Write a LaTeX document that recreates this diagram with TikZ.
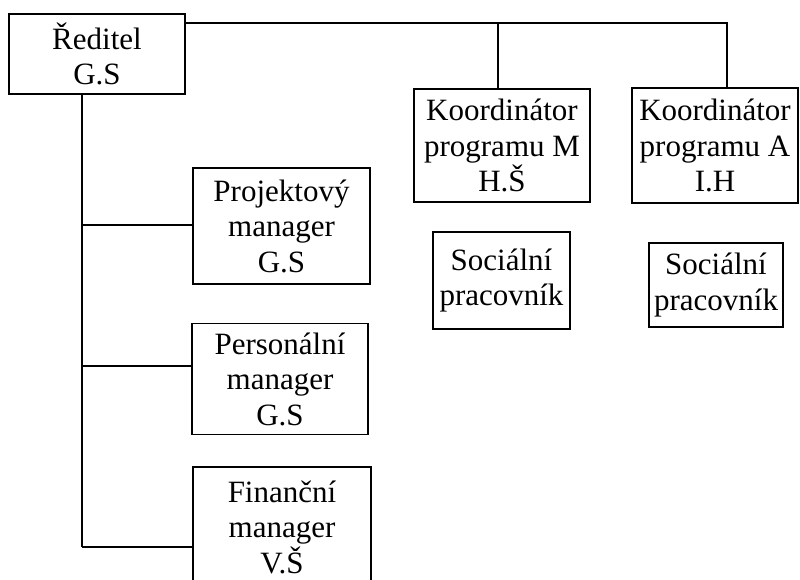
\documentclass[tikz,border=0pt]{standalone}
\usepackage{fontspec}
\setmainfont{Liberation Serif}
\begin{document}
\begin{tikzpicture}[x=1pt,y=-1pt,
  orgbox/.style={draw=black,line width=1.6pt,inner sep=0pt,align=center,
    font=\fontsize{31}{35.5}\selectfont},
  link/.style={draw=black,line width=1.3pt}]
\clip (0,0) rectangle (800,580);
\fill[white] (0,0) rectangle (800,580);

% top level
\node[orgbox,minimum width=176pt,minimum height=80pt] (red) at (97,54) {Ředitel\\G.S};

% programme coordinators
\node[orgbox,minimum width=176pt,minimum height=113pt] (kM) at (502,145.5) {Koordinátor\\programu M\\H.Š};
\node[orgbox,minimum width=166pt,minimum height=115pt] (kA) at (715,145.5) {Koordinátor\\programu A\\I.H};

% social workers
\node[orgbox,minimum width=137pt,minimum height=97pt] (s1) at (501.5,280.5) {Sociální\\pracovník};
\node[orgbox,minimum width=134pt,minimum height=84pt] (s2) at (716,285) {Sociální\\pracovník};

% managers
\node[orgbox,minimum width=177pt,minimum height=116pt] (proj) at (281.5,226) {Projektový\\manager\\G.S};
\node[orgbox,minimum width=176pt,minimum height=111pt] (pers) at (280,379) {Personální\\manager\\G.S};
\node[orgbox,minimum width=178pt,minimum height=120pt] (fin) at (282,527) {Finanční\\manager\\V.Š};

% connector junctions
\coordinate (hTop) at (727,23);
\coordinate (jM) at (498,23);
\coordinate (trunk) at (82,547);
\coordinate (bProj) at (82,225);
\coordinate (bPers) at (82,366);

% top bus to the coordinators
\draw[link] (red.east |- hTop) -- (hTop) -- (hTop |- kA.north);
\draw[link] (jM) -- (jM |- kM.north);

% trunk and branches to the managers
\draw[link] (trunk |- red.south) -- (trunk);
\draw[link] (bProj) -- (bProj -| proj.west);
\draw[link] (bPers) -- (bPers -| pers.west);
\draw[link] (trunk) -- (trunk -| fin.west);
\end{tikzpicture}
\end{document}
